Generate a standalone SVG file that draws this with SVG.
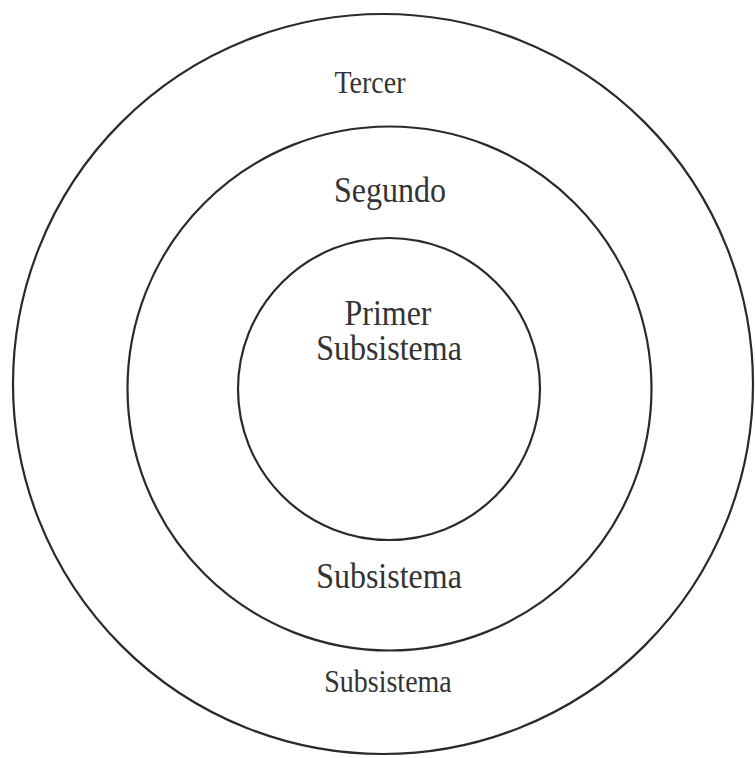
<svg xmlns="http://www.w3.org/2000/svg" width="755" height="758" viewBox="0 0 755 758">
<style>
.ring{fill:none;stroke:#2a2a2a;stroke-width:2.2}
.big{font-family:"Liberation Serif","Times New Roman",serif;font-size:32px;fill:#333;text-anchor:middle}
.sm{font-family:"Liberation Serif","Times New Roman",serif;font-size:28px;fill:#333;text-anchor:middle}
</style>
<rect width="755" height="758" fill="#fff"/>
<g id="outer">
<circle class="ring" cx="383" cy="384" r="370"/>
<text class="sm" transform="translate(370,93) scale(1,1.1)">Tercer</text>
<text class="sm" transform="translate(388,692) scale(1,1.1)">Subsistema</text>
</g>
<g id="middle">
<circle class="ring" cx="389.5" cy="388.5" r="262"/>
<text class="big" transform="translate(390,202) scale(1,1.1)">Segundo</text>
<text class="big" transform="translate(389,588) scale(1,1.1)">Subsistema</text>
</g>
<g id="inner">
<circle class="ring" cx="389" cy="389" r="151"/>
<text class="big" transform="translate(388,325) scale(1,1.1)">Primer</text>
<text class="big" transform="translate(389,360) scale(1,1.1)">Subsistema</text>
</g>
<g id="connectors"/>
</svg>
